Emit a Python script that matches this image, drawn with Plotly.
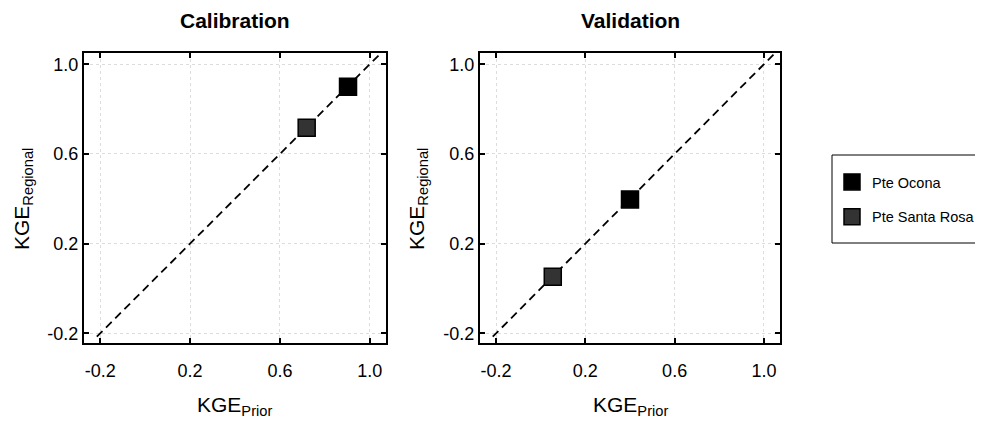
import plotly.graph_objects as go

# ---- data ----
stations = ["Pte Ocona", "Pte Santa Rosa"]
station_colors = ["#000000", "#333333"]
calib_prior = [0.903, 0.719]
calib_regional = [0.900, 0.717]
valid_prior = [0.400, 0.054]
valid_regional = [0.397, 0.052]
one_to_one = [-0.215, 1.2]
tick_vals = [-0.2, 0.2, 0.6, 1.0]
tick_text = ["-0.2", "0.2", "0.6", "1.0"]
panel_titles = ["Calibration", "Validation"]

FONT = "Liberation Sans, Arial, sans-serif"
W, H = 975, 414  # page body has an 8px margin

fig = go.Figure()

panels = [(calib_prior, calib_regional, "x", "y"), (valid_prior, valid_regional, "x2", "y2")]
for p, (xs, ys, xa, ya) in enumerate(panels):
    fig.add_trace(go.Scatter(x=one_to_one, y=one_to_one, mode="lines",
                             line=dict(color="black", width=1.8, dash="8px,5px"),
                             showlegend=False, hoverinfo="skip", xaxis=xa, yaxis=ya))
    for i, name in enumerate(stations):
        fig.add_trace(go.Scatter(
            x=[xs[i]], y=[ys[i]], mode="markers", name=name,
            legendgroup=name, showlegend=(p == 0),
            marker=dict(symbol="square", size=17, color=station_colors[i],
                        line=dict(color="black", width=1.5)),
            xaxis=xa, yaxis=ya))

axis_common = dict(
    range=[-0.272, 1.072], tickvals=tick_vals, ticktext=tick_text,
    ticks="inside", ticklen=5, tickwidth=2, tickcolor="black",
    showline=True, linecolor="black", linewidth=2, mirror="ticks",
    showgrid=True, gridcolor="#dcdcdc", gridwidth=1, griddash="dot",
    zeroline=False, tickfont=dict(family=FONT, size=18, color="black"),
)
yaxis_common = dict(axis_common)
yaxis_common["range"] = [-0.243, 1.05]
xaxis_common = dict(axis_common)
xaxis_common["ticklabelstandoff"] = 10

xd1 = [76 / W, 378 / W]
xd2 = [472 / W, 772 / W]
yd = [1 - 335 / H, 1 - 45 / H]

fig.update_layout(
    width=W, height=H,
    margin=dict(l=0, r=0, t=0, b=0, autoexpand=False),
    paper_bgcolor="white", plot_bgcolor="white",
    font=dict(family=FONT, color="black"),
    xaxis=dict(domain=xd1, anchor="y", **xaxis_common),
    yaxis=dict(domain=yd, anchor="x", **yaxis_common),
    xaxis2=dict(domain=xd2, anchor="y2", **xaxis_common),
    yaxis2=dict(domain=yd, anchor="x2", **yaxis_common),
    legend=dict(x=824 / W, y=1 - 158 / H, xanchor="left", yanchor="top",
                bgcolor="rgba(0,0,0,0)", borderwidth=0,
                font=dict(family=FONT, size=14.5, color="black"),
                traceorder="grouped", tracegroupgap=13, itemwidth=30),
    showlegend=True,
)

# legend frame (open on the right, cut by the page edge)
fig.add_shape(type="rect", xref="paper", yref="paper",
              x0=824 / W, x1=1.3, y0=1 - 235 / H, y1=1 - 147 / H,
              line=dict(color="black", width=1), fillcolor="rgba(0,0,0,0)", layer="below")

centers = [sum(xd1) / 2, sum(xd2) / 2]
for c, t in zip(centers, panel_titles):
    fig.add_annotation(text="<b>%s</b>" % t, x=c, y=1 - 12.5 / H, xref="paper", yref="paper",
                       showarrow=False, font=dict(family=FONT, size=21, color="black"),
                       xanchor="center", yanchor="middle")
    fig.add_annotation(text="KGE<sub>Prior</sub>", x=c, y=1 - 398 / H, xref="paper", yref="paper",
                       showarrow=False, font=dict(family=FONT, size=21, color="black"),
                       xanchor="center", yanchor="middle")
for xpos in [15 / W, 410 / W]:
    fig.add_annotation(text="KGE<sub>Regional</sub>", x=xpos, y=1 - 191 / H, xref="paper", yref="paper",
                       showarrow=False, textangle=-90, font=dict(family=FONT, size=21, color="black"),
                       xanchor="center", yanchor="middle")

fig.write_html("out.html")
